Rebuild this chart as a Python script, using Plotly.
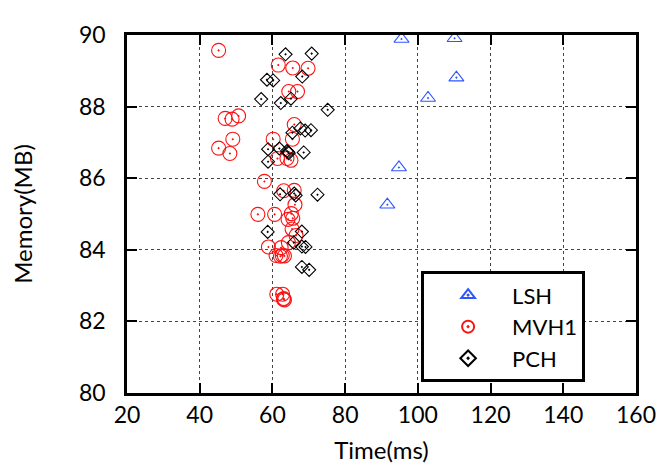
# Time vs memory scatter for three hashing schemes

import plotly.graph_objs as go

# LSH (blue triangles)
lsh_time = [95.5, 110.1, 110.6, 102.8, 94.8, 91.6]
lsh_mem = [89.89, 89.91, 88.81, 88.24, 86.30, 85.26]

# MVH1 (red circles)
mvh1_time = [45.2, 61.6, 65.6, 69.8, 64.5, 66.9, 47.0, 48.9, 50.7, 66.0,
             49.1, 45.2, 48.3, 60.2, 65.5, 61.4, 64.0, 65.1, 57.8, 63.1,
             66.0, 66.2, 56.0, 60.6, 65.2, 64.3, 65.6, 65.4, 66.5, 64.4,
             58.9, 62.4, 61.0, 62.2, 62.7, 63.3, 61.2, 62.8, 63.0, 63.3,
             63.1]
mvh1_mem = [89.57, 89.16, 89.08, 89.07, 88.42, 88.42, 87.67, 87.65, 87.74, 87.50,
            87.09, 86.84, 86.69, 87.09, 87.09, 86.55, 86.55, 86.50, 85.91, 85.65,
            85.66, 85.26, 84.99, 84.99, 85.01, 84.85, 84.88, 84.58, 84.40, 84.20,
            84.08, 84.06, 83.84, 83.82, 83.84, 83.83, 82.76, 82.76, 82.62, 82.60,
            82.64]

# PCH (black diamonds)
pch_time = [63.6, 70.8, 68.2, 58.5, 60.2, 56.9, 62.3, 65.1, 75.2, 65.5,
            67.7, 69.0, 70.6, 58.8, 61.9, 64.0, 64.3, 64.5, 68.6, 58.8,
            62.1, 66.0, 66.4, 72.4, 58.7, 68.1, 65.9, 68.1, 69.1, 68.1,
            70.1]
pch_mem = [89.46, 89.48, 88.84, 88.75, 88.73, 88.21, 88.10, 88.22, 87.91, 87.27,
           87.39, 87.33, 87.34, 86.81, 86.83, 86.76, 86.73, 86.70, 86.72, 86.46,
           85.55, 85.57, 85.52, 85.54, 84.50, 84.51, 84.20, 84.09, 84.08, 83.52,
           83.44]

x_ticks = [20, 40, 60, 80, 100, 120, 140, 160]
y_ticks = [80, 82, 84, 86, 88, 90]

FONT = 'Lato, "Open Sans", sans-serif'

trace_lsh = go.Scatter(
    x=lsh_time, y=lsh_mem, name='LSH', mode='markers',
    marker=dict(symbol='triangle-up-open-dot', size=13, color='#2f55ff',
                line=dict(width=1.1, color='#2f55ff')))

trace_mvh1 = go.Scatter(
    x=mvh1_time, y=mvh1_mem, name='MVH1', mode='markers',
    marker=dict(symbol='circle-open-dot', size=14, color='#ff1010',
                line=dict(width=1.1, color='#ff1010')))

trace_pch = go.Scatter(
    x=pch_time, y=pch_mem, name='PCH', mode='markers',
    marker=dict(symbol='diamond-open-dot', size=10, color='black',
                line=dict(width=1.1, color='black')))

axis_common = dict(
    showline=True, linewidth=2.5, linecolor='black', mirror='allticks',
    ticks='inside', ticklen=10, tickwidth=2, tickcolor='black',
    showgrid=True, gridcolor='#444444', griddash='dot', gridwidth=1.2,
    zeroline=False,
    tickfont=dict(size=23, color='black', family=FONT),
)

layout = go.Layout(
    width=667, height=470,
    margin=dict(l=117, r=39, t=16, b=85),
    paper_bgcolor='white', plot_bgcolor='white',
    font=dict(family=FONT, color='black'),
    xaxis=dict(axis_common, range=[20, 160], tickvals=x_ticks,
               ticklabelstandoff=0,
               title=dict(text='Time(ms)', font=dict(size=24), standoff=15)),
    yaxis=dict(axis_common, range=[80, 90], tickvals=y_ticks,
               ticklabelstandoff=14,
               title=dict(text='Memory(MB)', font=dict(size=24), standoff=42)),
    legend=dict(x=0.9, xanchor='right', y=0.03, yanchor='bottom',
                bordercolor='black', borderwidth=3, bgcolor='white',
                font=dict(size=22, family=FONT), itemsizing='constant',
                itemwidth=78, tracegroupgap=0),
    showlegend=True,
)

fig = go.Figure(data=[trace_lsh, trace_mvh1, trace_pch], layout=layout)
fig.write_html("out.html")
